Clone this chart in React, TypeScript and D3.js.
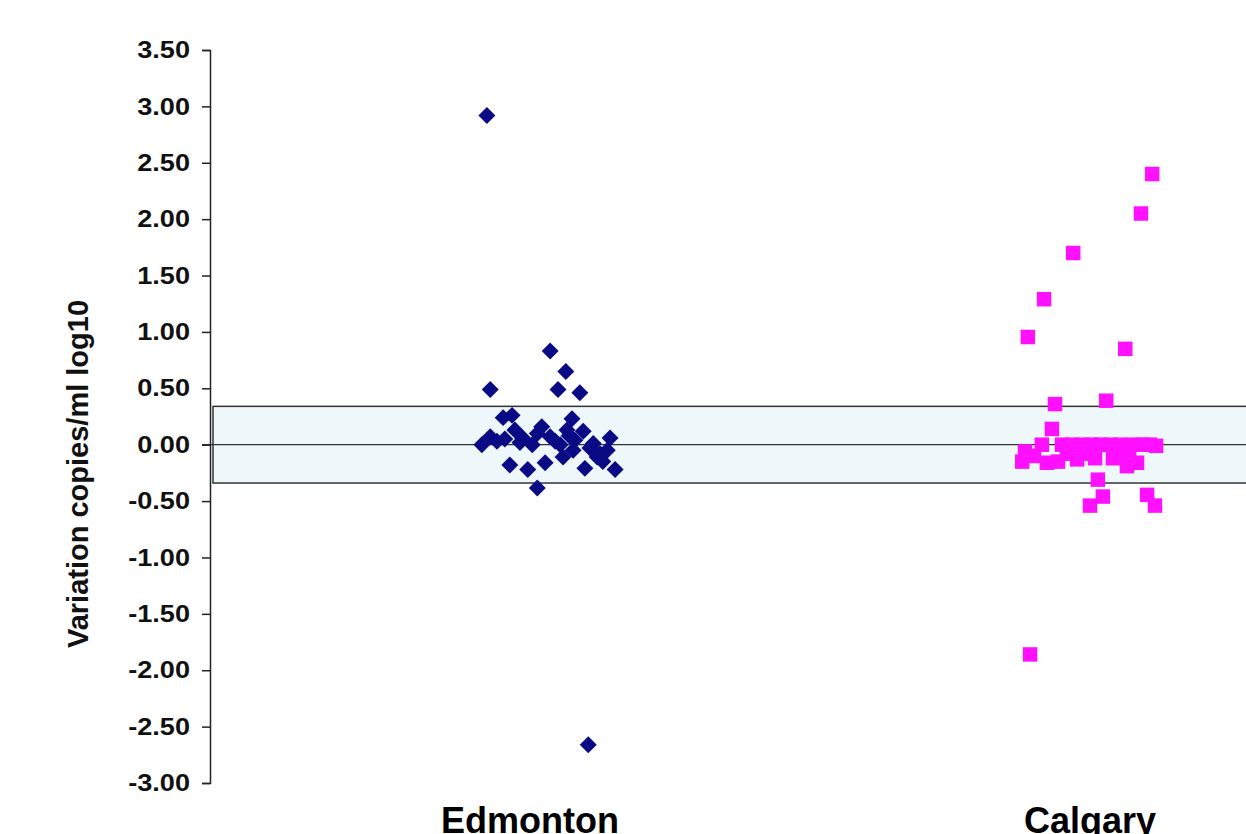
import * as d3 from "d3";
import { useEffect, useRef } from "react";

// categories and axis ticks
const categories = ["Edmonton", "Calgary"];
const yTicks = [3.5, 3.0, 2.5, 2.0, 1.5, 1.0, 0.5, 0.0, -0.5, -1.0, -1.5, -2.0, -2.5, -3.0];
const bandLimits = [-0.34, 0.34];

// [jitter (category units), log10 variation]
const edmonton: [number, number][] = [
  [-0.077, 2.92], [-0.071, 0.49], [0.036, 0.83], [0.064, 0.65], [0.05, 0.49],
  [0.089, 0.46], [0.104, -2.66],
  [-0.032, 0.26], [-0.048, 0.24], [0.075, 0.23], [-0.071, 0.07], [-0.086, 0.0],
  [-0.059, 0.03], [-0.027, 0.13], [-0.013, 0.06], [0.004, 0.0], [0.021, 0.16],
  [0.013, 0.1], [0.036, 0.07], [0.054, 0.0], [0.066, 0.13], [0.08, 0.04],
  [0.095, 0.12], [0.077, -0.05], [0.113, 0.01], [0.125, -0.08], [0.143, 0.06],
  [0.138, -0.05], [0.13, -0.15], [0.12, -0.11], [-0.036, -0.18], [-0.004, -0.22],
  [0.027, -0.16], [0.059, -0.11], [0.098, -0.21], [0.152, -0.22], [0.013, -0.385],
  [-0.045, 0.05], [-0.018, 0.02], [0.045, 0.03], [0.107, -0.03], [0.07, 0.08],
];

const calgary: [number, number][] = [
  [0.111, 2.4], [0.091, 2.05], [-0.03, 1.7], [-0.082, 1.29], [-0.111, 0.955],
  [0.063, 0.85], [-0.107, -1.86], [-0.0625, 0.36], [0.029, 0.39], [-0.068, 0.14],
  [-0.086, 0.0], [-0.116, -0.06], [-0.121, -0.15], [-0.077, -0.16], [-0.057, -0.15],
  [-0.05, 0.0], [-0.032, 0.0], [-0.023, -0.13], [0.004, 0.0], [0.018, 0.0],
  [0.009, -0.12], [0.054, 0.0], [0.077, 0.0], [0.107, 0.0], [0.041, -0.12],
  [0.066, -0.19], [0.084, -0.16], [0.014, -0.31], [0.023, -0.46], [0.0, -0.54],
  [0.102, -0.445], [0.116, -0.54], [-0.014, 0.0], [0.036, 0.0], [0.093, 0.0],
  [-0.041, -0.08], [-0.009, -0.08], [0.054, -0.08], [0.07, -0.06], [-0.1, -0.1],
  [0.118, -0.01],
];

export default function App() {
  const ref = useRef<SVGSVGElement | null>(null);

  useEffect(() => {
    if (!ref.current) return;
    const svg = d3.select(ref.current);
    svg.selectAll("*").remove();

    const width = 1246;
    const height = 834;
    const axisX = 210;
    const font = "'Liberation Sans', Arial, sans-serif";

    const x = d3.scaleLinear().domain([1, 2]).range([530, 1090]);
    const y = d3.scaleLinear().domain([-3, 3.5]).range([783, 50]);

    // reference band
    svg
      .append("rect")
      .attr("x", axisX + 3)
      .attr("y", y(bandLimits[1]))
      .attr("width", width)
      .attr("height", y(bandLimits[0]) - y(bandLimits[1]))
      .attr("fill", "#eef7f9")
      .attr("stroke", "#333")
      .attr("stroke-width", 1.5);

    // zero line
    svg
      .append("line")
      .attr("x1", axisX - 8)
      .attr("x2", width)
      .attr("y1", y(0))
      .attr("y2", y(0))
      .attr("stroke", "#333")
      .attr("stroke-width", 1.3);

    // y axis
    const yAxis = svg
      .append("g")
      .attr("transform", `translate(${axisX},0)`)
      .call(
        d3
          .axisLeft(y)
          .tickValues(yTicks)
          .tickSize(8)
          .tickPadding(12)
          .tickFormat((d) => d3.format(".2f")(d as number).replace("−", "-"))
      );
    yAxis.select(".domain").attr("stroke", "#222").attr("stroke-width", 1.5);
    yAxis.selectAll(".tick line").attr("stroke", "#222").attr("stroke-width", 1.5);
    yAxis
      .selectAll(".tick text")
      .attr("x", 0)
      .attr("transform", "translate(-20,0) scale(1.13,1)")
      .attr("fill", "#111")
      .style("font-family", font)
      .style("font-weight", "bold")
      .style("font-size", "24px");

    // axis title
    svg
      .append("text")
      .attr("transform", `translate(88, ${y(-0.26)}) rotate(-90)`)
      .attr("text-anchor", "middle")
      .style("font-family", font)
      .style("font-weight", "bold")
      .style("font-size", "29px")
      .attr("fill", "#111")
      .text("Variation copies/ml log10");

    // category labels
    svg
      .selectAll(".cat")
      .data(categories)
      .enter()
      .append("text")
      .attr("x", (_, i) => x(i + 1))
      .attr("y", 833)
      .attr("text-anchor", "middle")
      .style("font-family", font)
      .style("font-weight", "bold")
      .style("font-size", "36px")
      .attr("fill", "#000")
      .text((d) => d);

    // Edmonton diamonds
    const sq = d3.symbol().type(d3.symbolSquare).size(144);
    svg
      .append("g")
      .selectAll("path")
      .data(edmonton)
      .enter()
      .append("path")
      .attr("d", sq()!)
      .attr("transform", (d) => `translate(${x(1 + d[0])},${y(d[1])}) rotate(45)`)
      .attr("fill", "#0a0a84");

    // Calgary squares
    const sq2 = d3.symbol().type(d3.symbolSquare).size(210);
    svg
      .append("g")
      .selectAll("path")
      .data(calgary)
      .enter()
      .append("path")
      .attr("d", sq2()!)
      .attr("transform", (d) => `translate(${x(2 + d[0])},${y(d[1])})`)
      .attr("fill", "#ff10ff");
  }, []);

  return (
    <svg
      ref={ref}
      width={1246}
      height={834}
      style={{ position: "absolute", left: 0, top: 0, background: "#fff" }}
    />
  );
}
